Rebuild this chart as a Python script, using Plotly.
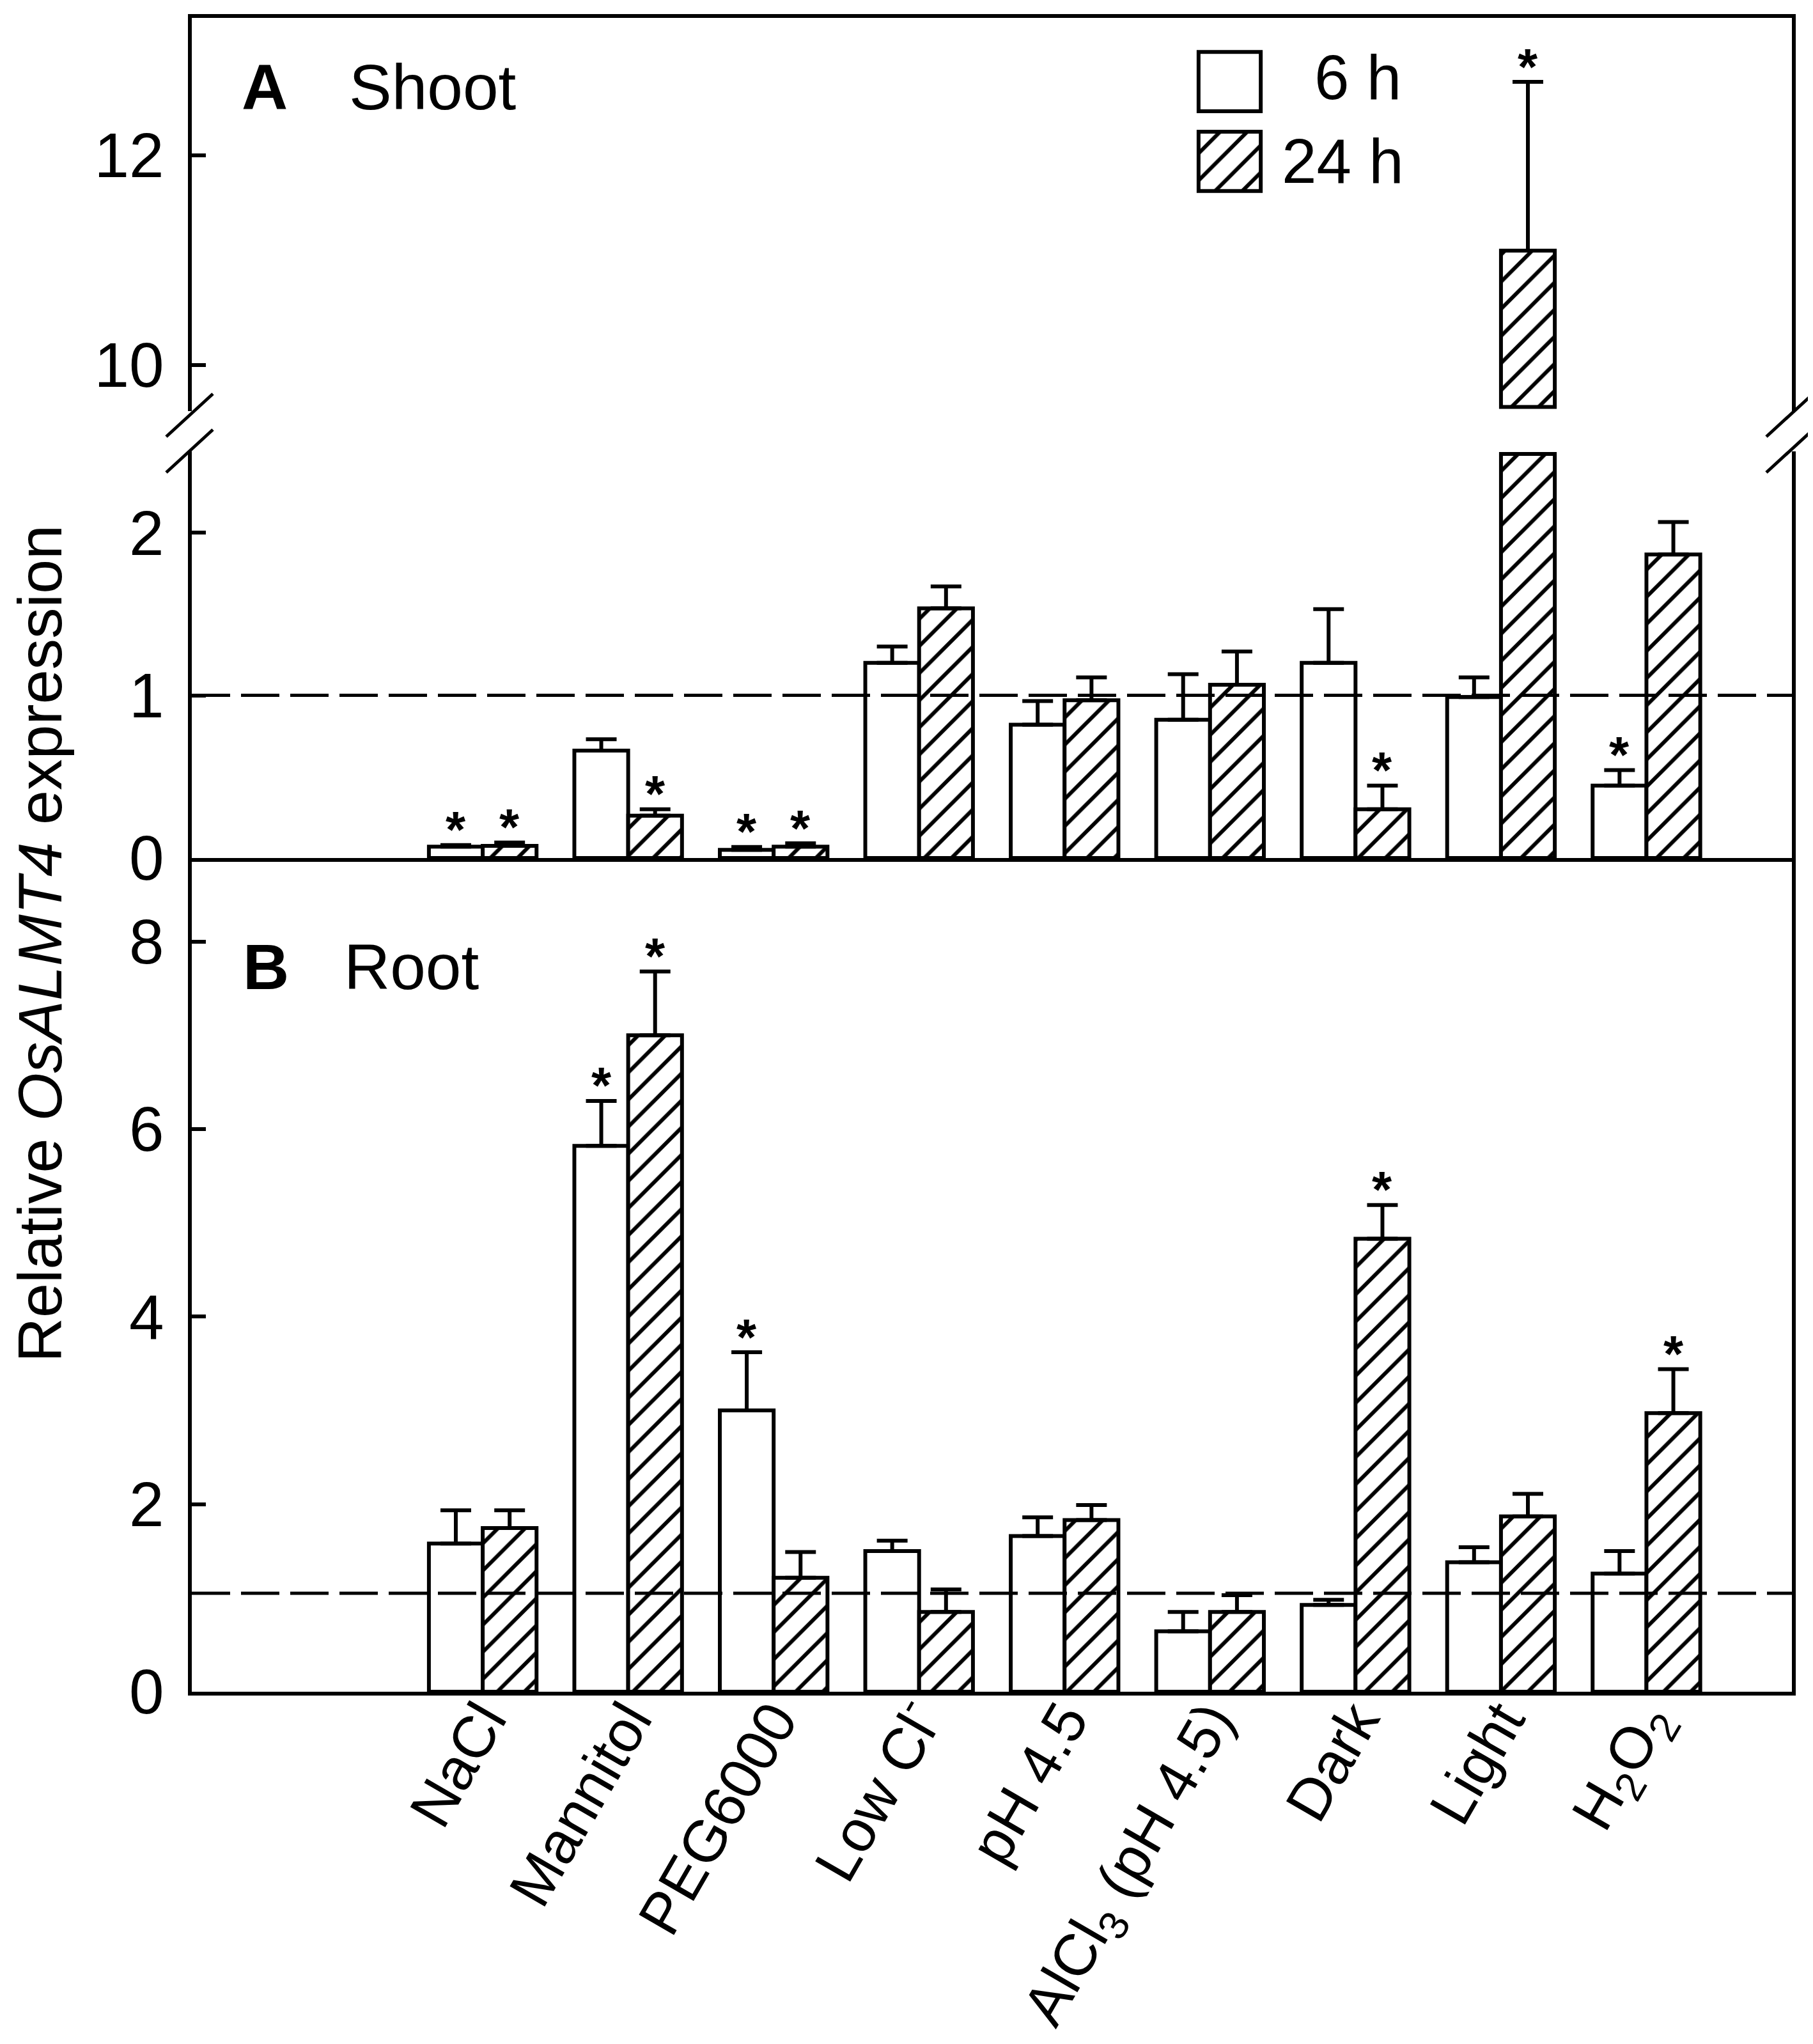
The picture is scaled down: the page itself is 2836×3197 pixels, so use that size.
import plotly.graph_objects as go

# ---------------- data ----------------
categories = ["NaCl", "Mannitol", "PEG6000", "Low Cl<sup>-</sup>", "pH 4.5",
              "AlCl<sub>3</sub> (pH 4.5)", "Dark", "Light", "H<sub>2</sub>O<sub>2</sub>"]

shoot_6h = [0.07, 0.66, 0.05, 1.20, 0.82, 0.85, 1.20, 0.99, 0.445]
shoot_6h_err = [0.01, 0.07, 0.018, 0.10, 0.145, 0.28, 0.33, 0.12, 0.095]
shoot_24h = [0.075, 0.26, 0.07, 1.535, 0.97, 1.065, 0.30, 11.09, 1.866]
shoot_24h_err = [0.02, 0.04, 0.02, 0.135, 0.14, 0.205, 0.145, 1.61, 0.20]

root_6h = [1.58, 5.82, 3.00, 1.50, 1.66, 0.645, 0.925, 1.38, 1.26]
root_6h_err = [0.355, 0.48, 0.62, 0.11, 0.20, 0.205, 0.055, 0.16, 0.24]
root_24h = [1.745, 7.00, 1.215, 0.85, 1.83, 0.85, 4.83, 1.87, 2.97]
root_24h_err = [0.19, 0.68, 0.275, 0.24, 0.16, 0.18, 0.36, 0.24, 0.47]

shoot_sig_6h = [1, 0, 1, 0, 0, 0, 0, 0, 1]
shoot_sig_24h = [1, 1, 1, 0, 0, 0, 1, 1, 0]
root_sig_6h = [0, 1, 1, 0, 0, 0, 0, 0, 0]
root_sig_24h = [0, 1, 0, 0, 0, 0, 1, 0, 1]

series_names = ["6 h", "24 h"]
shoot_ref = 1.0
root_ref = 1.05

# axis ranges (broken axis for shoot)
root_range = [0, 8.89]
shoot_low_range = [0, 2.5]
shoot_high_range = [9.56, 13.31]

# ---------------- layout geometry ----------------
W_FIG, H_FIG = 2836, 3197
L, R, T, B = 292, 41, 20, 559
PW = W_FIG - L - R
PH = H_FIG - T - B
BOTTOM = H_FIG - B


def pxx(p):
    return (p - L) / PW


def pxy(p):
    return (BOTTOM - p) / PH


dom_root = [0, pxy(1334)]
dom_low = [pxy(1334), pxy(698)]
dom_high = [pxy(635), 1.0]

FONT = "Liberation Sans, Arial, sans-serif"
BW = 0.37
LW = 6
hatch = dict(shape="/", bgcolor="white", fgcolor="black", fgopacity=1, size=30,
             solidity=0.2, fillmode="overlay")
plain = dict(color="white", line=dict(color="black", width=LW))
hatched = dict(color="white", line=dict(color="black", width=LW), pattern=hatch)

fig = go.Figure()


def add_pair(v6, e6, v24, e24, xa, ya, base=None):
    fig.add_trace(go.Bar(x=categories, y=v6, width=BW, offset=-BW, marker=plain,
                         base=base, xaxis=xa, yaxis=ya, showlegend=False,
                         error_y=dict(type="data", symmetric=False, array=e6,
                                      arrayminus=[0] * len(e6), color="black",
                                      thickness=LW, width=24)))
    fig.add_trace(go.Bar(x=categories, y=v24, width=BW, offset=0, marker=hatched,
                         base=base, xaxis=xa, yaxis=ya, showlegend=False,
                         error_y=dict(type="data", symmetric=False, array=e24,
                                      arrayminus=[0] * len(e24), color="black",
                                      thickness=LW, width=24)))


# root panel
add_pair(root_6h, root_6h_err, root_24h, root_24h_err, "x", "y")

# shoot lower segment (values capped at segment top)
low_top = shoot_low_range[1] - 0.016


def cap(vals, errs):
    v = [min(a, low_top) for a in vals]
    e = [0 if a > low_top else b for a, b in zip(vals, errs)]
    return v, e


s6, se6 = cap(shoot_6h, shoot_6h_err)
s24, se24 = cap(shoot_24h, shoot_24h_err)
add_pair(s6, se6, s24, se24, "x2", "y2")

# shoot upper segment (only bars reaching it)
hb = shoot_high_range[0] + 0.04
h6 = [a - hb if a > hb else None for a in shoot_6h]
he6 = [b if a > hb else 0 for a, b in zip(shoot_6h, shoot_6h_err)]
h24 = [a - hb if a > hb else None for a in shoot_24h]
he24 = [b if a > hb else 0 for a, b in zip(shoot_24h, shoot_24h_err)]
add_pair(h6, he6, h24, he24, "x3", "y3", base=hb)

# legend keys
fig.add_trace(go.Bar(orientation="h", x=[1], y=[1], base=0, width=0.744, marker=plain,
                     xaxis="x4", yaxis="y4", showlegend=False))
fig.add_trace(go.Bar(orientation="h", x=[1], y=[0], base=0, width=0.744, marker=hatched,
                     xaxis="x4", yaxis="y4", showlegend=False))

annotations = []


# significance stars
def stars(vals, errs, sig, side, panel):
    for i, (v, e, s) in enumerate(zip(vals, errs, sig)):
        if not s:
            continue
        if panel == "root":
            xr, yr = "x", "y"
        elif v > low_top:
            xr, yr = "x3", "y3"
        else:
            xr, yr = "x2", "y2"
        annotations.append(dict(x=i + side * BW / 2, y=v + e, xref=xr, yref=yr,
                                text="<b>*</b>", showarrow=False, yanchor="middle",
                                yshift=24, font=dict(size=80, family=FONT, color="black")))


stars(root_6h, root_6h_err, root_sig_6h, -1, "root")
stars(root_24h, root_24h_err, root_sig_24h, 1, "root")
stars(shoot_6h, shoot_6h_err, shoot_sig_6h, -1, "shoot")
stars(shoot_24h, shoot_24h_err, shoot_sig_24h, 1, "shoot")

# panel labels, legend text, axis title
annotations += [
    dict(x=pxx(368), y=pxy(128), xref="paper", yref="paper", text="<b>A</b>", showarrow=False,
         xanchor="left", yanchor="middle", font=dict(size=100, family=FONT)),
    dict(x=pxx(536), y=pxy(128), xref="paper", yref="paper", text="Shoot", showarrow=False,
         xanchor="left", yanchor="middle", font=dict(size=100, family=FONT)),
    dict(x=pxx(370), y=pxy(1504), xref="paper", yref="paper", text="<b>B</b>", showarrow=False,
         xanchor="left", yanchor="middle", font=dict(size=100, family=FONT)),
    dict(x=pxx(528), y=pxy(1504), xref="paper", yref="paper", text="Root", showarrow=False,
         xanchor="left", yanchor="middle", font=dict(size=100, family=FONT)),
    dict(x=pxx(2186), y=pxy(113), xref="paper", yref="paper", text=series_names[0], showarrow=False,
         xanchor="right", yanchor="middle", font=dict(size=98, family=FONT)),
    dict(x=pxx(2190), y=pxy(244), xref="paper", yref="paper", text=series_names[1], showarrow=False,
         xanchor="right", yanchor="middle", font=dict(size=98, family=FONT)),
    dict(x=pxx(54), y=pxy(1468), xref="paper", yref="paper",
         text="Relative <i>OsALMT4</i> expression", showarrow=False, textangle=-90,
         xanchor="center", yanchor="middle", font=dict(size=97, family=FONT)),
]

# reference (dashed) lines and axis-break marks
shapes = [
    dict(type="line", xref="x2 domain", x0=0, x1=1, yref="y2", y0=shoot_ref, y1=shoot_ref,
         line=dict(color="black", width=5, dash="60px,17px")),
    dict(type="line", xref="x domain", x0=0, x1=1, yref="y", y0=root_ref, y1=root_ref,
         line=dict(color="black", width=5, dash="60px,17px")),
]
for xa in (0, 1):
    for ya, y0, y1 in ((dom_high[0], -40, 27), (dom_low[1], -33, 34)):
        shapes.append(dict(type="line", xref="paper", xsizemode="pixel", xanchor=xa, x0=-40, x1=33,
                           yref="paper", ysizemode="pixel", yanchor=ya, y0=y0, y1=y1,
                           line=dict(color="black", width=5)))

yax_common = dict(ticks="inside", ticklen=22, tickwidth=LW, tickcolor="black",
                  showline=True, linewidth=LW, linecolor="black", mirror=True,
                  showgrid=False, zeroline=False, ticklabelstandoff=18, automargin=False,
                  tickfont=dict(size=98, family=FONT, color="black"))
xax_common = dict(type="category", categoryarray=categories, range=[-2, 9],
                  showline=True, linewidth=LW, linecolor="black", ticks="",
                  showgrid=False, zeroline=False, automargin=False)

fig.update_layout(
    template="none",
    width=W_FIG, height=H_FIG,
    margin=dict(l=L, r=R, t=T, b=B, autoexpand=False),
    plot_bgcolor="white", paper_bgcolor="white",
    font=dict(family=FONT, size=98, color="black"),
    barmode="overlay",
    showlegend=False,
    xaxis=dict(domain=[0, 1], anchor="y", tickangle=-60, ticklabelstandoff=-52,
               tickfont=dict(size=92, family=FONT, color="black"), **xax_common),
    xaxis2=dict(domain=[0, 1], anchor="y2", matches="x", showticklabels=False, **xax_common),
    xaxis3=dict(domain=[0, 1], anchor="y3", matches="x", side="top", showticklabels=False, **xax_common),
    yaxis=dict(domain=dom_root, anchor="x", range=root_range, tickvals=[0, 2, 4, 6, 8], **yax_common),
    yaxis2=dict(domain=dom_low, anchor="x2", range=shoot_low_range, tickvals=[0, 1, 2], **yax_common),
    yaxis3=dict(domain=dom_high, anchor="x3", range=shoot_high_range, tickvals=[10, 12], **yax_common),
    xaxis4=dict(domain=[pxx(1862), pxx(1969)], anchor="y4", range=[-0.05, 1.05], visible=False),
    yaxis4=dict(domain=[pxy(297), pxy(67)], anchor="x4", range=[-0.422, 1.422], visible=False),
    annotations=annotations,
    shapes=shapes,
)

fig.write_html("out.html")
